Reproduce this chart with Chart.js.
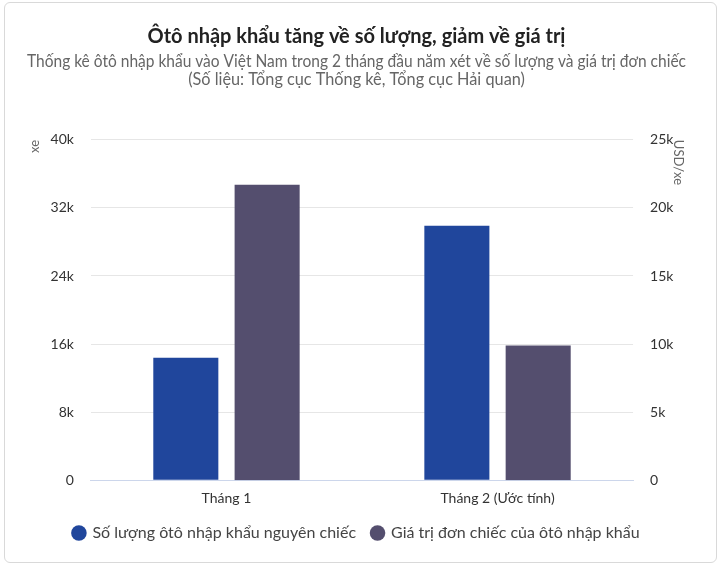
<!DOCTYPE html>
<html>
<head>
<meta charset="utf-8">
<script src="https://cdn.jsdelivr.net/npm/chart.js@4/dist/chart.umd.min.js"></script>
<style>
  html, body { margin: 0; padding: 0; background: #fff; }
  #box {
    position: absolute; left: 4px; top: 2px;
    width: 711px; height: 559px;
    border: 1px solid #d9d9d9; border-radius: 6px;
  }
  canvas { display: block; }
</style>
</head>
<body>
<div id="box"><canvas id="chart" width="711" height="559"></canvas></div>
<script>
// data
var months = ["Tháng 1", "Tháng 2 (Ước tính)"];
var carCount = [14400, 29900];      // xe
var unitValue = [21700, 9900];      // USD/xe
var seriesNames = ["Số lượng ôtô nhập khẩu nguyên chiếc", "Giá trị đơn chiếc của ôtô nhập khẩu"];
var seriesColors = ["#20469c", "#544e6e"];

var FONT = "Lato, 'Noto Sans', sans-serif";

function kLabel(v) {
  return v === 0 ? "0" : (v / 1000) + "k";
}

new Chart(document.getElementById("chart").getContext("2d"), {
  type: "bar",
  data: {
    labels: months,
    datasets: [
      {
        label: seriesNames[0],
        data: carCount,
        backgroundColor: seriesColors[0],
        yAxisID: "y"
      },
      {
        label: seriesNames[1],
        data: unitValue,
        backgroundColor: seriesColors[1],
        yAxisID: "y1"
      }
    ]
  },
  options: {
    responsive: false,
    animation: false,
    categoryPercentage: 0.6,
    barPercentage: 0.8,
    layout: { padding: { left: 22, right: 30, top: 2, bottom: 11 } },
    plugins: {
      title: {
        display: true,
        text: "Ôtô nhập khẩu tăng về số lượng, giảm về giá trị",
        color: "#222",
        font: { family: FONT, size: 20, weight: "bold" },
        padding: { top: 20, bottom: 4 }
      },
      subtitle: {
        display: true,
        text: [
          "Thống kê ôtô nhập khẩu vào Việt Nam trong 2 tháng đầu năm xét về số lượng và giá trị đơn chiếc",
          "(Số liệu: Tổng cục Thống kê, Tổng cục Hải quan)"
        ],
        color: "#666",
        font: { family: FONT, size: 16.3, lineHeight: 1.1 },
        padding: { bottom: 51 }
      },
      legend: {
        position: "bottom",
        labels: {
          color: "#444",
          font: { family: FONT, size: 16 },
          usePointStyle: true,
          pointStyle: "circle",
          boxWidth: 11,
          boxHeight: 11,
          padding: 16
        }
      },
      tooltip: { enabled: false }
    },
    scales: {
      x: {
        grid: { display: false },
        border: { color: "#ccd6eb" },
        ticks: { color: "#333", font: { family: FONT, size: 14 }, padding: 2 }
      },
      y: {
        position: "left",
        min: 0,
        max: 40000,
        ticks: {
          stepSize: 8000,
          color: "#333",
          font: { family: FONT, size: 14 },
          padding: 17,
          callback: kLabel
        },
        grid: { color: "#e6e6e6", drawTicks: false },
        border: { display: false },
        title: {
          display: true,
          text: "xe",
          align: "end",
          color: "#666",
          font: { family: FONT, size: 13 },
          padding: { top: 0, bottom: -9 }
        }
      },
      y1: {
        position: "right",
        min: 0,
        max: 25000,
        ticks: {
          stepSize: 5000,
          color: "#333",
          font: { family: FONT, size: 14 },
          padding: 17,
          callback: kLabel
        },
        grid: { display: false, drawTicks: false },
        border: { display: false },
        title: {
          display: true,
          text: "USD/xe",
          align: "end",
          color: "#666",
          font: { family: FONT, size: 13 },
          padding: { top: 0, bottom: -20 }
        }
      }
    }
  }
});
</script>
</body>
</html>
